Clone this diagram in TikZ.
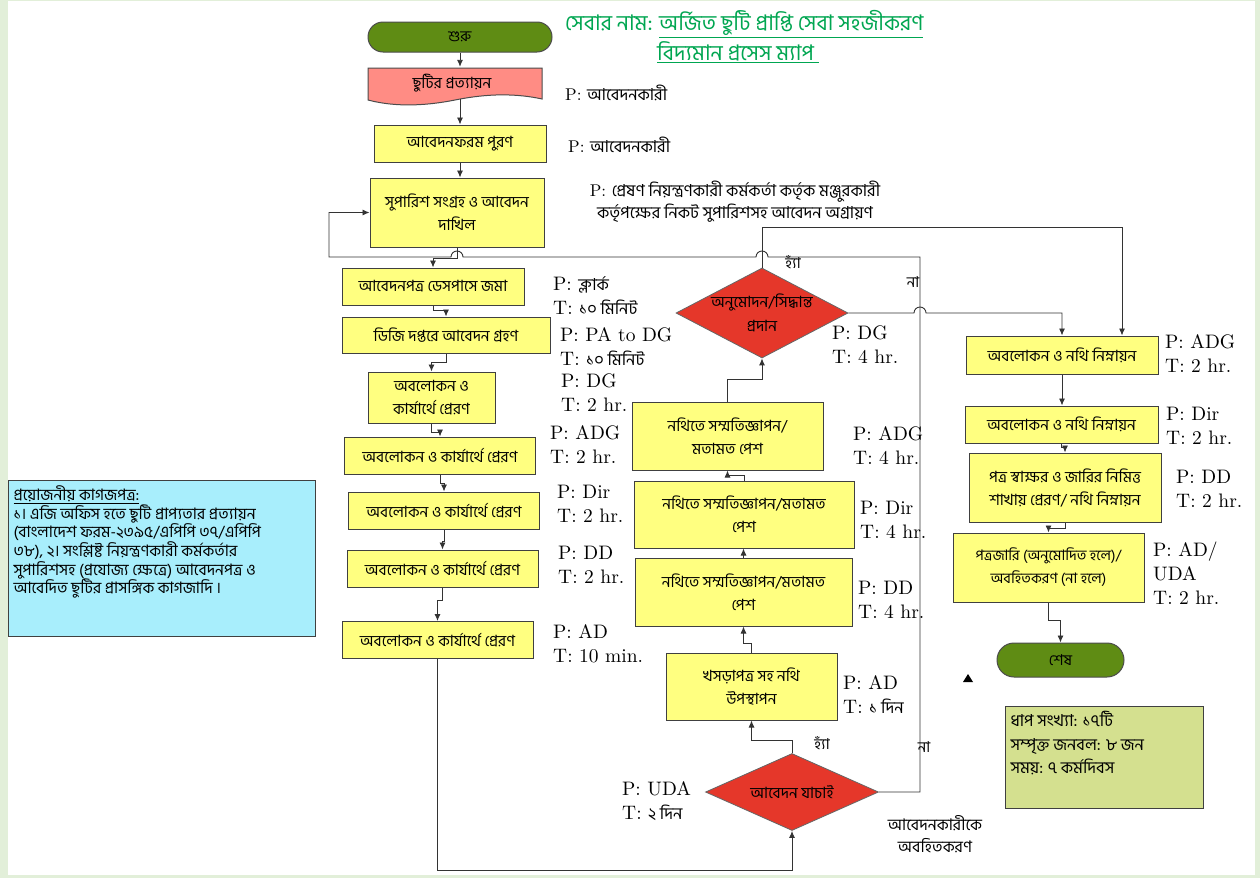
\documentclass[tikz,border=0pt]{standalone}
\usepackage{fontspec}
\usetikzlibrary{arrows.meta,shapes.geometric}
\newfontfamily\bn[Script=Bengali]{Hind Siliguri}
\newfontfamily\lmwide{lmroman10-regular}[Extension=.otf]
\newcommand{\bnsm}{\bn\fontsize{16.5}{20}\selectfont}
\definecolor{BoxYellow}{HTML}{FFFF80}
\definecolor{DocPink}{HTML}{FF8C84}
\definecolor{DecRed}{HTML}{E5372A}
\definecolor{PillGreen}{HTML}{5F8C14}
\definecolor{TitleGreen}{HTML}{00A651}
\definecolor{PaperCyan}{HTML}{A8EEFC}
\definecolor{SumOlive}{HTML}{D4E08F}
\definecolor{FrameGreen}{HTML}{E2EFD9}

\begin{document}
\begin{tikzpicture}[x=1pt, y=-1pt,
        stepbox/.style={draw=black!75, line width=1pt, fill=BoxYellow, align=center, inner sep=1pt, font=\bn\fontsize{15.5}{23}\selectfont},
        decision/.style={diamond, draw=black!60, line width=0.8pt, fill=DecRed, inner sep=0pt},
        dectext/.style={align=center, inner sep=0pt, font=\bn\fontsize{15.5}{24}\selectfont},
        terminal/.style={draw=black!70, line width=1pt, fill=PillGreen, rounded corners=15pt, font=\bn\fontsize{15}{16}\selectfont},
        who/.style={anchor=west, align=left, inner sep=0pt, font=\lmwide\fontsize{19.5}{24}\selectfont},
        tag/.style={inner sep=0pt, font=\bn\fontsize{15}{18}\selectfont},
        flow/.style={draw=black!80, line width=0.9pt, -{Latex[length=7pt,width=6pt]}}]
        \fill[FrameGreen] (0,0) rectangle (1260,878);
        \fill[white] (8,1) rectangle (1255,875);

        \node[anchor=west, inner sep=0pt, text=TitleGreen, font=\bn\fontsize{21.5}{24}\selectfont] (title) at (565,24) {সেবার নাম: \underline{অর্জিত ছুটি প্রাপ্তি সেবা সহজীকরণ}};
        \node[anchor=west, inner sep=0pt, text=TitleGreen, font=\bn\fontsize{21.5}{24}\selectfont] (subtitle) at (657,52) {\underline{বিদ্যমান প্রসেস ম্যাপ\ }};

        \node[terminal, minimum width=184pt, minimum height=30pt] (start) at (460,37) {শুরু};
        \draw[fill=DocPink, draw=black!70, line width=1pt] (368,68) -- (542,68) -- (542,99) .. controls (510,92) and (480,95) .. (455,100) .. controls (430,105) and (398,108) .. (368,100) -- cycle;
        \node[inner sep=0pt, minimum width=174pt, minimum height=32pt, font=\bn\fontsize{15.5}{16}\selectfont] (cert) at (452,83) {ছুটির প্রত্যায়ন};
        \node[stepbox, minimum width=172pt, minimum height=37pt] (form) at (460,143.5) {আবেদনফরম পুরণ};
        \node[stepbox, minimum width=174pt, minimum height=69pt] (supp) at (457,212.5) {সুপারিশ সংগ্রহ ও আবেদন\\দাখিল};
        \node[stepbox, minimum width=182pt, minimum height=37pt] (desp) at (433,286.5) {আবেদনপত্র ডেসপাসে জমা};
        \node[stepbox, minimum width=208pt, minimum height=36pt] (dgrcv) at (446,335) {ডিজি দপ্তরে আবেদন গ্রহণ};
        \node[stepbox, minimum width=127pt, minimum height=51pt] (dgobs) at (431.5,397.5) {অবলোকন ও\\কার্যার্থে প্রেরণ};
        \foreach \nm/\cx/\cy in {adgobs/440/455.5, dirobs/444/510.5, ddobs/442.5/568.5, adobs/437.5/640}
            \node[stepbox, minimum width=191pt, minimum height=37pt] (\nm) at (\cx,\cy) {অবলোকন ও কার্যার্থে প্রেরণ};

        \node[decision, minimum width=172pt, minimum height=90pt, label={[dectext]center:{অনুমোদন/সিদ্ধান্ত\\প্রদান}}] (approve) at (762,313) {};
        \node[stepbox, minimum width=191pt, minimum height=68pt] (adgnote) at (727.5,436) {নথিতে সম্মতিজ্ঞাপন/\\মতামত পেশ};
        \node[stepbox, minimum width=220pt, minimum height=67pt] (dirnote) at (744,514.5) {নথিতে সম্মতিজ্ঞাপন/মতামত\\পেশ};
        \node[stepbox, minimum width=217pt, minimum height=68pt] (ddnote) at (743.5,592) {নথিতে সম্মতিজ্ঞাপন/মতামত\\পেশ};
        \node[stepbox, minimum width=171pt, minimum height=67pt] (draft) at (751.5,686.5) {খসড়াপত্র সহ নথি\\উপস্থাপন};
        \node[decision, minimum width=173pt, minimum height=77pt, label={[dectext]center:{আবেদন যাচাই}}] (verify) at (792,792) {};

        \node[stepbox, minimum width=192pt, minimum height=38pt] (adgdown) at (1062,355) {অবলোকন ও নথি নিম্নায়ন};
        \node[stepbox, minimum width=193pt, minimum height=37pt] (dirdown) at (1061.5,424.5) {অবলোকন ও নথি নিম্নায়ন};
        \node[stepbox, minimum width=192pt, minimum height=69pt] (sign) at (1065,487.5) {পত্র স্বাক্ষর ও জারির নিমিত্ত\\শাখায় প্রেরণ/ নথি নিম্নায়ন};
        \node[stepbox, minimum width=191pt, minimum height=69pt, font=\bn\fontsize{14.5}{23}\selectfont] (issue) at (1048.5,567.5) {পত্রজারি (অনুমোদিত হলে)/\\অবহিতকরণ (না হলে)};
        \node[terminal, rounded corners=17pt, minimum width=127pt, minimum height=34pt] (finish) at (1060.5,660) {শেষ};

        \node[draw=black!75, line width=1pt, fill=PaperCyan, anchor=north west, inner sep=5pt, font=\bn\fontsize{15.8}{18.7}\selectfont] (papers) at (8,480)
            {\parbox[t][146pt][t]{297pt}{\raggedright\underline{প্রয়োজনীয় কাগজপত্র:}\\১। এজি অফিস হতে ছুটি প্রাপ্যতার প্রত্যায়ন\\(বাংলাদেশ ফরম-২৩৯৫/এপিপি ৩৭/এপিপি\\৩৮), ২। সংশ্লিষ্ট নিয়ন্ত্রণকারী কর্মকর্তার\\সুপারিশসহ (প্রযোজ্য ক্ষেত্রে) আবেদনপত্র ও\\আবেদিত ছুটির প্রাসঙ্গিক কাগজাদি ।}};
        \node[draw=black!75, line width=1pt, fill=SumOlive, anchor=north west, inner sep=5pt, font=\bn\fontsize{16.5}{23.5}\selectfont] (summary) at (1005,706)
            {\parbox[t][92pt][t]{188pt}{\raggedright ধাপ সংখ্যা: ১৭টি\\সম্পৃক্ত জনবল: ৮ জন\\সময়: ৭ কর্মদিবস}};

        \draw[flow] (start.south) -- (start.south |- cert.north);
        \draw[flow] (form.north |- cert.south) -- (form.north);
        \draw[flow] (form.south) -- (form.south |- supp.north);
        \draw[flow] (supp.south) -- ++(0,11) -| (desp.north);
        \draw[flow] (desp.south) -- ++(0,5) -| (dgrcv.north);
        \draw[flow] (dgrcv.south) -- ++(0,9) -| (dgobs.north);
        \draw[flow] (dgobs.south) -- ++(0,9) -| (adgobs.north);
        \draw[flow] (adgobs.south) -- ++(0,9) -| (dirobs.north);
        \draw[flow] (dirobs.south) -- ++(0,12) -| (ddobs.north);
        \draw[flow] (ddobs.south) -- ++(0,13) -| (adobs.north);
        \draw[flow] (adobs.south) -- ++(0,211) -| (verify.south);
        \draw[flow] (verify.north) -- ++(0,-13) -| (draft.south);
        \draw[flow] (draft.north) -- ++(0,-9) -| (ddnote.south);
        \draw[flow] (ddnote.north) -- (ddnote.north |- dirnote.south);
        \draw[flow] (dirnote.north) -- ++(0,-5) -| (adgnote.south);
        \draw[flow] (adgnote.north) -- ++(0,-22) -| (approve.south);
        \draw[flow] (verify.east) -| (920,257) -- (768,257) arc[start angle=0, end angle=-180, radius=6] -- (463,257) arc[start angle=0, end angle=-180, radius=6] -- (329,257) |- (supp.west);
        \coordinate (yesturn) at (1122,227);
        \draw[flow] (approve.north) |- (yesturn) -- (yesturn |- adgdown.north);
        \draw[flow] (approve.east) -- (914,313) arc[start angle=180, end angle=360, radius=6] -| (adgdown.north);
        \draw[flow] (adgdown.south) -- (adgdown.south |- dirdown.north);
        \draw[flow] (dirdown.south) -- ++(0,4) -| (sign.north);
        \draw[flow] (sign.south) -- ++(0,6) -| (issue.north);
        \draw[flow] (issue.south) -- ++(0,18) -| (finish.north);
        \fill[black] (963,682) -- (973,682) -- (968,674) -- cycle;

        \node[tag] (yestop) at (793,262) {হ্যাঁ};
        \node[tag] (notop) at (913,282) {না};
        \node[tag] (yesbottom) at (822,743) {হ্যাঁ};
        \node[tag] (nobottom) at (924,747) {না};
        \node[tag, align=center, font=\bn\fontsize{16}{22}\selectfont] (inform) at (935,834) {আবেদনকারীকে\\অবহিতকরণ};

        \node[who, font=\lmwide\fontsize{17}{22}\selectfont] (certwho) at (565,93) {P: {\bnsm আবেদনকারী}};
        \node[who, font=\lmwide\fontsize{17}{22}\selectfont] (formwho) at (568,145) {P: {\bnsm আবেদনকারী}};
        \node[who, anchor=center, align=center, font=\lmwide\fontsize{17}{22}\selectfont] (suppwho) at (735,202) {P: {\bnsm প্রেষণ নিয়ন্ত্রণকারী কর্মকর্তা কর্তৃক মঞ্জুরকারী}\\{\bnsm কর্তৃপক্ষের নিকট সুপারিশসহ আবেদন অগ্রায়ণ}};
        \node[who] (despwho) at (553,296) {P: {\bnsm ক্লার্ক}\\T: {\bnsm ১০ মিনিট}};
        \node[who] (dgrcvwho) at (560,347) {P: PA to DG\\T: {\bnsm ১০ মিনিট}};
        \node[who] (dgobswho) at (561,392.5) {P: DG\\T: 2 hr.};
        \node[who] (adgobswho) at (550,444.5) {P: ADG\\T: 2 hr.};
        \node[who] (dirobswho) at (557,503.5) {P: Dir\\T: 2 hr.};
        \node[who] (ddobswho) at (558,564.5) {P: DD\\T: 2 hr.};
        \node[who] (adobswho) at (553,643.5) {P: AD\\T: 10 min.};
        \node[who] (approvewho) at (832,345) {P: DG\\T: 4 hr.};
        \node[who] (adgnotewho) at (853,445.5) {P: ADG\\T: 4 hr.};
        \node[who] (dirnotewho) at (860,520) {P: Dir\\T: 4 hr.};
        \node[who] (ddnotewho) at (858,599.5) {P: DD\\T: 4 hr.};
        \node[who] (draftwho) at (843,695) {P: AD\\T: {\bnsm ১ দিন}};
        \node[who] (verifywho) at (622,801.5) {P: UDA\\T: {\bnsm ২ দিন}};
        \node[who] (adgdownwho) at (1165,353.5) {P: ADG\\T: 2 hr.};
        \node[who] (dirdownwho) at (1166,426) {P: Dir\\T: 2 hr.};
        \node[who] (signwho) at (1176,489) {P: DD\\T: 2 hr.};
        \node[who] (issuewho) at (1153,573) {P: AD/\\UDA\\T: 2 hr.};
    \end{tikzpicture}
\end{document}
